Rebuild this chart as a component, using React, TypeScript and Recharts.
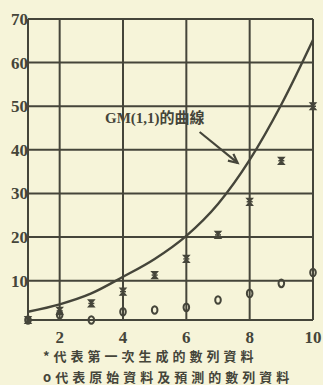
import React from "react";
import {
  ComposedChart,
  Line,
  Scatter,
  XAxis,
  YAxis,
  CartesianGrid,
  ReferenceLine,
} from "recharts";

const periods = [1, 2, 3, 4, 5, 6, 7, 8, 9, 10];
const gmCurve = [2.9, 4.6, 7.1, 10.9, 15, 20.3, 27.6, 37.7, 50.4, 65.2];
const agoSeries = [1, 3.1, 4.8, 7.5, 11.3, 15, 20.5, 28.1, 37.5, 50];
const originalSeries = [1, 2.2, 1, 2.9, 3.3, 3.9, 5.6, 7.1, 9.4, 11.9];
const xTicks = [2, 4, 6, 8, 10];
const yTicks = [10, 20, 30, 40, 50, 60, 70];
const arrowFrom = { x: 6.42, y: 44.1 };
const arrowTo = { x: 7.62, y: 37.0 };
const curveLabel = "GM(1,1)的曲線";
const legendLines = ["*代表第一次生成的數列資料", "o代表原始資料及預測的數列資料"];

const data = periods.map((x, i) => ({
  x,
  gm: gmCurve[i],
  ago: agoSeries[i],
  orig: originalSeries[i],
}));

const INK = "#45453a";
const BG = "#f6f4d9";

const AgoMark = (props: any) => {
  const { cx, cy } = props;
  if (cx == null || cy == null) return null;
  return (
    <g>
      <path
        d={`M${cx - 3},${cy - 3.5} L${cx + 3},${cy - 3.5} L${cx - 3},${cy + 3.5} L${cx + 3},${cy + 3.5} Z`}
        fill={INK}
        stroke={INK}
        strokeWidth={1.2}
      />
      <line x1={cx - 3} y1={cy} x2={cx + 3} y2={cy} stroke={INK} strokeWidth={1.5} />
    </g>
  );
};

const OrigMark = (props: any) => {
  const { cx, cy } = props;
  if (cx == null || cy == null) return null;
  return <ellipse cx={cx} cy={cy} rx={2.8} ry={3.8} fill="none" stroke={INK} strokeWidth={2} />;
};

const YTick = (props: any) => {
  const { x, y, payload } = props;
  return (
    <text
      x={x}
      y={y + 6}
      textAnchor="end"
      fontFamily="'Liberation Serif', serif"
      fontWeight="bold"
      fontSize={17}
      fill={INK}
    >
      {payload.value}
    </text>
  );
};

const XTick = (props: any) => {
  const { x, y, payload } = props;
  return (
    <text
      x={x}
      y={y + 23}
      textAnchor="middle"
      fontFamily="'Liberation Serif', serif"
      fontWeight="bold"
      fontSize={17}
      fill={INK}
    >
      {payload.value}
    </text>
  );
};

const ArrowShape = (props: any) => {
  const { x1, y1, x2, y2 } = props;
  if ([x1, y1, x2, y2].some((v) => v == null)) return null;
  const ang = Math.atan2(y2 - y1, x2 - x1);
  const len = 10;
  const spread = 0.45;
  const ax = x2 - len * Math.cos(ang - spread);
  const ay = y2 - len * Math.sin(ang - spread);
  const bx = x2 - len * Math.cos(ang + spread);
  const by = y2 - len * Math.sin(ang + spread);
  return (
    <g>
      <line x1={x1} y1={y1} x2={x2} y2={y2} stroke={INK} strokeWidth={2.2} />
      <polyline points={`${ax},${ay} ${x2},${y2} ${bx},${by}`} fill="none" stroke={INK} strokeWidth={2.2} />
    </g>
  );
};

export default function App() {
  return (
    <div
      style={{
        position: "absolute",
        left: 0,
        top: 0,
        width: 323,
        height: 385,
        background: BG,
        overflow: "hidden",
      }}
    >
      <ComposedChart
        width={323}
        height={385}
        data={data}
        margin={{ top: 19, right: 10, bottom: 35, left: 0 }}
      >
        <CartesianGrid stroke={INK} strokeWidth={2} strokeOpacity={1} />
        <XAxis
          type="number"
          dataKey="x"
          domain={[1, 10]}
          ticks={xTicks}
          height={30}
          axisLine={{ stroke: INK, strokeWidth: 2 }}
          tickLine={false}
          tickSize={0}
          tickMargin={0}
          tick={<XTick />}
        />
        <YAxis
          type="number"
          domain={[1, 70]}
          ticks={yTicks}
          width={28}
          axisLine={{ stroke: INK, strokeWidth: 2 }}
          tickLine={false}
          tickSize={0}
          tickMargin={0}
          tick={<YTick />}
        />
        <Line
          type="monotone"
          dataKey="gm"
          stroke={INK}
          strokeWidth={2.4}
          dot={false}
          isAnimationActive={false}
        />
        <Scatter dataKey="orig" shape={<OrigMark />} isAnimationActive={false} />
        <Scatter dataKey="ago" shape={<AgoMark />} isAnimationActive={false} />
        <ReferenceLine
          segment={[arrowFrom, arrowTo]}
          ifOverflow="visible"
          shape={<ArrowShape />}
        />
      </ComposedChart>
      <div
        style={{
          position: "absolute",
          left: 105,
          top: 109,
          fontSize: 15,
          lineHeight: "18px",
          fontWeight: "bold",
          color: INK,
          fontFamily: "'Liberation Serif', 'Noto Sans CJK TC', serif",
          whiteSpace: "nowrap",
        }}
      >
        {curveLabel}
      </div>
      <div
        style={{
          position: "absolute",
          left: 43,
          top: 345,
          fontSize: 13,
          lineHeight: "21px",
          letterSpacing: 4,
          fontWeight: "bold",
          color: INK,
          fontFamily: "'Noto Sans CJK TC', sans-serif",
          whiteSpace: "nowrap",
        }}
      >
        {legendLines.map((t) => (
          <div key={t}>{t}</div>
        ))}
      </div>
    </div>
  );
}
